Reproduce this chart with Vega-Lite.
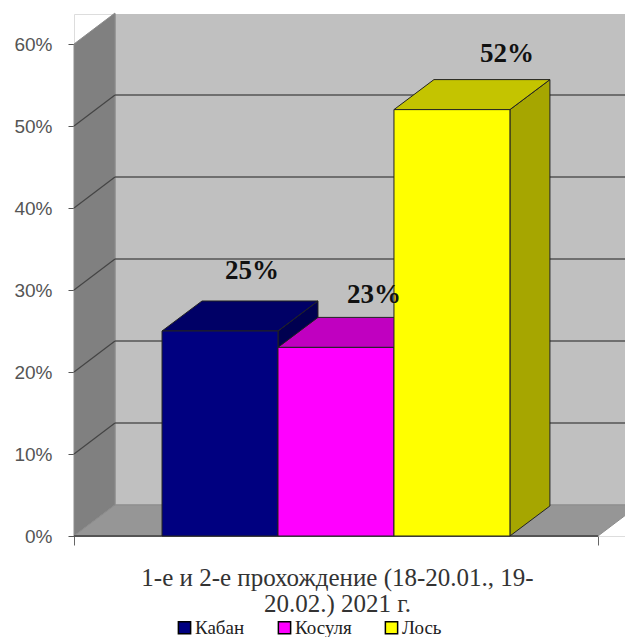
{
  "$schema": "https://vega.github.io/schema/vega-lite/v6.json",
  "width": 551,
  "height": 522,
  "autosize": {"type": "none"},
  "padding": {"left": 74, "top": 14, "right": 0, "bottom": 101},
  "background": "white",
  "datasets": {
    "bars": [
      {"species": "Кабан", "value": 0.25, "slot": 0},
      {"species": "Косуля", "value": 0.23, "slot": 1},
      {"species": "Лось", "value": 0.52, "slot": 2}
    ],
    "grid": [
      {"tick": 0.1}, {"tick": 0.2}, {"tick": 0.3}, {"tick": 0.4}, {"tick": 0.5}
    ],
    "leftWall": [
      {"pos": 0, "low": 0, "high": 0.6},
      {"pos": 7.82, "low": 0.0378, "high": 0.6378}
    ],
    "floor": [
      {"level": 0, "from": 0, "to": 100},
      {"level": 0.0378, "from": 7.82, "to": 107.82}
    ]
  },
  "layer": [
    {
      "data": {"name": "grid"},
      "mark": {"type": "rect", "fill": "#c0c0c0", "stroke": "#9a9a9a", "strokeWidth": 1.5, "clip": true},
      "encoding": {
        "x": {
          "datum": 7.82,
          "type": "quantitative",
          "scale": {"domain": [0, 105.15], "nice": false, "zero": false},
          "axis": {
            "values": [0, 100],
            "labels": false,
            "grid": false,
            "domain": false,
            "ticks": true,
            "tickSize": 9,
            "tickColor": "#666666",
            "title": ["1-е и 2-е прохождение (18-20.01., 19-", "20.02.) 2021 г."],
            "titleFont": "Liberation Serif",
            "titleFontSize": 25,
            "titleFontWeight": "normal",
            "titleColor": "#333333",
            "titleLineHeight": 26,
            "titleBaseline": "alphabetic",
            "titleX": 263,
            "titleY": 49
          }
        },
        "x2": {"datum": 115},
        "y": {
          "datum": 0.0378,
          "type": "quantitative",
          "scale": {"domain": [0, 0.6366], "nice": false, "zero": false},
          "axis": {
            "values": [0, 0.1, 0.2, 0.3, 0.4, 0.5, 0.6],
            "format": ".0%",
            "grid": false,
            "domain": false,
            "title": null,
            "tickSize": 6,
            "tickColor": "#555555",
            "labelFont": "Liberation Sans",
            "labelFontSize": 19,
            "labelColor": "#555555",
            "labelPadding": 16
          }
        },
        "y2": {"datum": 0.6378}
      }
    },
    {
      "data": {"name": "leftWall"},
      "mark": {"type": "area", "orient": "vertical", "fill": "#808080", "stroke": "#8c8c8c", "strokeWidth": 1},
      "encoding": {
        "x": {"field": "pos", "type": "quantitative", "axis": null},
        "y": {"field": "high", "type": "quantitative", "axis": null},
        "y2": {"field": "low"}
      }
    },
    {
      "data": {"name": "floor"},
      "mark": {"type": "area", "orient": "horizontal", "fill": "#969696", "stroke": "#8c8c8c", "strokeWidth": 1, "clip": true},
      "encoding": {
        "y": {"field": "level", "type": "quantitative", "axis": null},
        "x": {"field": "from", "type": "quantitative", "axis": null},
        "x2": {"field": "to"}
      }
    },
    {
      "data": {"name": "grid"},
      "mark": {"type": "rule", "stroke": "#555555", "strokeWidth": 1.5, "clip": true},
      "transform": [{"calculate": "datum.tick + 0.0378", "as": "backTick"}],
      "encoding": {
        "x": {"datum": 7.82, "type": "quantitative", "axis": null},
        "x2": {"datum": 115},
        "y": {"field": "backTick", "type": "quantitative", "axis": null}
      }
    },
    {
      "data": {"name": "grid"},
      "mark": {"type": "line", "stroke": "#444444", "strokeWidth": 1.2},
      "transform": [
        {"calculate": "[0, 1]", "as": "depth"},
        {"flatten": ["depth"]},
        {"calculate": "7.82 * datum.depth", "as": "px"},
        {"calculate": "datum.tick + 0.0378 * datum.depth", "as": "py"}
      ],
      "encoding": {
        "x": {"field": "px", "type": "quantitative", "axis": null},
        "y": {"field": "py", "type": "quantitative", "axis": null},
        "detail": {"field": "tick"}
      }
    },
    {
      "data": {"name": "grid"},
      "mark": {"type": "rule", "stroke": "#555555", "strokeWidth": 1.5},
      "encoding": {
        "x": {"datum": 0, "type": "quantitative", "axis": null},
        "x2": {"datum": 100},
        "y": {"datum": 0, "type": "quantitative", "axis": null}
      }
    },
    {
      "data": {"name": "bars"},
      "mark": {"type": "area", "orient": "vertical", "stroke": "#222222", "strokeWidth": 1},
      "transform": [
        {"calculate": "[0, 1]", "as": "depth"},
        {"flatten": ["depth"]},
        {"calculate": "16.8 + 22.13 * (datum.slot + 1) + 7.63 * datum.depth", "as": "px"},
        {"calculate": "datum.value + 0.0366 * datum.depth", "as": "high"},
        {"calculate": "0.0366 * datum.depth", "as": "low"}
      ],
      "encoding": {
        "x": {"field": "px", "type": "quantitative", "axis": null},
        "y": {"field": "high", "type": "quantitative", "axis": null},
        "y2": {"field": "low"},
        "fill": {
          "field": "species",
          "type": "nominal",
          "legend": null,
          "scale": {"domain": ["Кабан", "Косуля", "Лось"], "range": ["#000050", "#a000a0", "#a6a600"]}
        }
      }
    },
    {
      "data": {"name": "bars"},
      "mark": {"type": "area", "orient": "horizontal", "stroke": "#222222", "strokeWidth": 1},
      "transform": [
        {"calculate": "[0, 1]", "as": "depth"},
        {"flatten": ["depth"]},
        {"calculate": "datum.value + 0.0366 * datum.depth", "as": "py"},
        {"calculate": "16.8 + 22.13 * datum.slot + 7.63 * datum.depth", "as": "from"},
        {"calculate": "16.8 + 22.13 * (datum.slot + 1) + 7.63 * datum.depth", "as": "to"}
      ],
      "encoding": {
        "y": {"field": "py", "type": "quantitative", "axis": null},
        "x": {"field": "from", "type": "quantitative", "axis": null},
        "x2": {"field": "to"},
        "fill": {
          "field": "species",
          "type": "nominal",
          "legend": null,
          "scale": {"domain": ["Кабан", "Косуля", "Лось"], "range": ["#000066", "#c000c0", "#c4c400"]}
        }
      }
    },
    {
      "data": {"name": "bars"},
      "mark": {"type": "rect", "stroke": "#222222", "strokeWidth": 1},
      "transform": [
        {"calculate": "16.8 + 22.13 * datum.slot", "as": "from"},
        {"calculate": "16.8 + 22.13 * (datum.slot + 1)", "as": "to"}
      ],
      "encoding": {
        "x": {"field": "from", "type": "quantitative", "axis": null},
        "x2": {"field": "to"},
        "y": {"field": "value", "type": "quantitative", "axis": null},
        "y2": {"datum": 0},
        "fill": {
          "field": "species",
          "type": "nominal",
          "scale": {"domain": ["Кабан", "Косуля", "Лось"], "range": ["#000080", "#ff00ff", "#ffff00"]},
          "legend": {
            "title": null,
            "orient": "none",
            "legendX": 101,
            "legendY": 604,
            "direction": "horizontal",
            "columns": 3,
            "columnPadding": 30,
            "symbolType": "square",
            "symbolSize": 150,
            "symbolStrokeColor": "#000000",
            "symbolStrokeWidth": 1.5,
            "labelFont": "Liberation Serif",
            "labelFontSize": 19,
            "labelColor": "#222222",
            "labelOffset": 1
          }
        }
      }
    },
    {
      "data": {"name": "bars"},
      "transform": [{"filter": "datum.slot === 0"}],
      "mark": {"type": "text", "font": "Liberation Serif", "fontWeight": "bold", "fontSize": 27, "color": "#111111", "dx": 32, "dy": -52, "baseline": "alphabetic", "align": "center"},
      "encoding": {
        "x": {"datum": 27.87, "type": "quantitative", "axis": null},
        "y": {"field": "value", "type": "quantitative", "axis": null},
        "text": {"field": "value", "type": "quantitative", "format": ".0%"}
      }
    },
    {
      "data": {"name": "bars"},
      "transform": [{"filter": "datum.slot === 1"}],
      "mark": {"type": "text", "font": "Liberation Serif", "fontWeight": "bold", "fontSize": 27, "color": "#111111", "dx": 38, "dy": -44, "baseline": "alphabetic", "align": "center"},
      "encoding": {
        "x": {"datum": 50, "type": "quantitative", "axis": null},
        "y": {"field": "value", "type": "quantitative", "axis": null},
        "text": {"field": "value", "type": "quantitative", "format": ".0%"}
      }
    },
    {
      "data": {"name": "bars"},
      "transform": [{"filter": "datum.slot === 2"}],
      "mark": {"type": "text", "font": "Liberation Serif", "fontWeight": "bold", "fontSize": 27, "color": "#111111", "dx": 55, "dy": -48, "baseline": "alphabetic", "align": "center"},
      "encoding": {
        "x": {"datum": 72.13, "type": "quantitative", "axis": null},
        "y": {"field": "value", "type": "quantitative", "axis": null},
        "text": {"field": "value", "type": "quantitative", "format": ".0%"}
      }
    }
  ],
  "resolve": {"scale": {"fill": "independent"}, "axis": {"x": "independent", "y": "independent"}}
}
